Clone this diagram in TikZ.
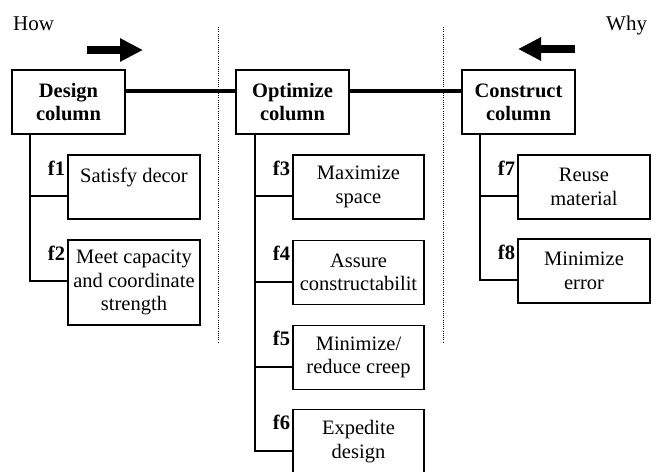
\documentclass[tikz,border=0pt]{standalone}
\usepackage{fontspec}
\setmainfont{Liberation Serif}
\usetikzlibrary{arrows.meta}

\tikzset{
  colbox/.style={draw, line width=1.6pt, minimum width=113pt, minimum height=64pt,
    inner sep=0pt, align=center, font=\fontsize{20.5}{23}\selectfont\bfseries},
  fbox/.style={draw, line width=1.6pt, minimum width=132pt, minimum height=64pt,
    inner sep=0pt, align=center, font=\fontsize{20.5}{23.5}\selectfont},
  flabel/.style={anchor=base east, inner sep=0pt, font=\fontsize{20.5}{23.5}\selectfont\bfseries},
  trunk/.style={line width=1.6pt},
  mainline/.style={line width=3.4pt},
  sep/.style={line width=1pt, dash pattern=on 1pt off 1.2pt},
  bigarrow/.style={line width=8pt, -{Triangle[length=23pt,width=22pt]}}
}

\begin{document}
\begin{tikzpicture}[x=1pt,y=-1pt]
\useasboundingbox (0,0) rectangle (661,471);

% how / why
\node [anchor=base west, inner sep=0pt, font=\fontsize{21}{24}\selectfont] (how) at (13,30) {How};
\node [anchor=base west, inner sep=0pt, font=\fontsize{21}{24}\selectfont] (why) at (606,30) {Why};
\coordinate (ra) at (87,50) ;
\coordinate (rb) at (143,50) ;
\coordinate (la) at (575,49) ;
\coordinate (lb) at (518,49) ;
\draw [bigarrow] (ra) -- (rb) ;
\draw [bigarrow] (la) -- (lb) ;

% dotted separators
\draw [sep] (218,27) -- (218,343) ;
\draw [sep] (443,27) -- (443,343) ;

% columns
\node [colbox] (design) at (68.5,102) {Design\\column} ;
\node [colbox] (optimize) at (292.5,102) {Optimize\\column} ;
\node [colbox] (construct) at (518.5,102) {Construct\\column} ;
\draw [mainline] ([yshift=11pt]design.east) -- ([yshift=11pt]optimize.west) ;
\draw [mainline] ([yshift=11pt]optimize.east) -- ([yshift=11pt]construct.west) ;

% design functions
\node [fbox] (f1) at (134,187) {Satisfy decor\\\mbox{}} ;
\node [fbox, minimum height=85pt] (f2) at (134,282.5) {Meet capacity\\and coordinate\\strength} ;
\node [flabel] (l1) at ([xshift=-2pt,yshift=-21pt]f1.north west) {f1} ;
\node [flabel] (l2) at ([xshift=-2pt,yshift=-21pt]f2.north west) {f2} ;
\draw [trunk] ([xshift=19pt]design.south west) |- ([yshift=-42pt]f2.north west) ;
\draw [trunk] ([xshift=19pt]design.south west) |- ([yshift=-42pt]f1.north west) ;

% optimize functions
\node [fbox, minimum width=131pt] (f3) at (358.5,187) {Maximize\\space} ;
\node [fbox, minimum width=131pt] (f4) at (358.5,272.5) {Assure\\constructabilit} ;
\node [fbox, minimum width=131pt] (f5) at (358.5,357.5) {Minimize/\\reduce creep} ;
\node [fbox, minimum width=131pt] (f6) at (358.5,441.5) {Expedite\\design} ;
\node [flabel] (l3) at ([xshift=-2pt,yshift=-21pt]f3.north west) {f3} ;
\node [flabel] (l4) at ([xshift=-2pt,yshift=-21pt]f4.north west) {f4} ;
\node [flabel] (l5) at ([xshift=-2pt,yshift=-21pt]f5.north west) {f5} ;
\node [flabel] (l6) at ([xshift=-2pt,yshift=-21pt]f6.north west) {f6} ;
\draw [trunk] ([xshift=20pt]optimize.south west) |- ([yshift=-42pt]f6.north west) ;
\draw [trunk] ([xshift=20pt]optimize.south west) |- ([yshift=-42pt]f5.north west) ;
\draw [trunk] ([xshift=20pt]optimize.south west) |- ([yshift=-42pt]f4.north west) ;
\draw [trunk] ([xshift=20pt]optimize.south west) |- ([yshift=-42pt]f3.north west) ;

% construct functions
\node [fbox] (f7) at (584,187) {Reuse\\material} ;
\node [fbox] (f8) at (584,271) {Minimize\\error} ;
\node [flabel] (l7) at ([xshift=-2pt,yshift=-21pt]f7.north west) {f7} ;
\node [flabel] (l8) at ([xshift=-2pt,yshift=-21pt]f8.north west) {f8} ;
\draw [trunk] ([xshift=19pt]construct.south west) |- ([yshift=-42pt]f8.north west) ;
\draw [trunk] ([xshift=19pt]construct.south west) |- ([yshift=-42pt]f7.north west) ;

\end{tikzpicture}
\end{document}
